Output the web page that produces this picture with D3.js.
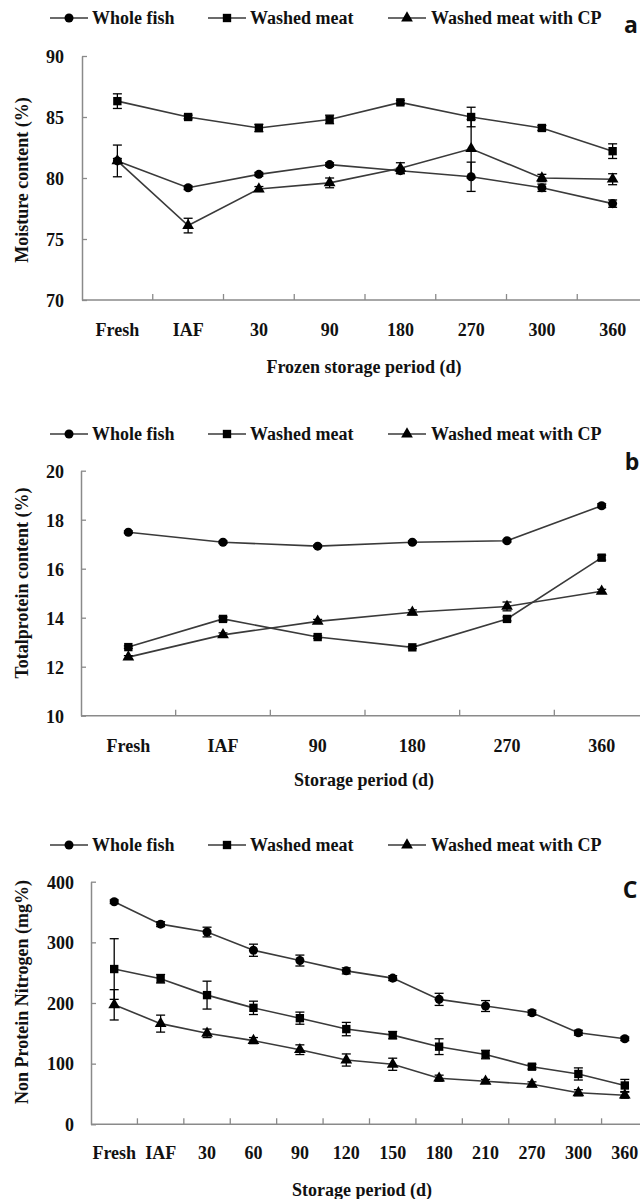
<!DOCTYPE html>
<html>
<head>
<meta charset="utf-8">
<script src="https://cdn.jsdelivr.net/npm/d3@7"></script>
<style>
  html, body { margin: 0; padding: 0; background: #fff; }
  svg { display: block; }
  text { font-family: "Liberation Serif", "Times New Roman", serif; font-weight: bold; fill: #111; }
  .panel-letter { font-family: "Open Sans", "Liberation Sans", sans-serif; font-weight: bold; }
</style>
</head>
<body>
<svg id="chart" width="640" height="1199"></svg>
<script>
// ---------- DATA ----------
const seriesNames = ["Whole fish", "Washed meat", "Washed meat with CP"];

// Panel a: moisture content
const moistureCategories = ["Fresh", "IAF", "30", "90", "180", "270", "300", "360"];
const moistureTicks = [70, 75, 80, 85, 90];
const moistureWhole     = [81.4, 79.2, 80.3, 81.1, 80.6, 80.1, 79.2, 77.9];
const moistureWholeErr  = [1.3, 0.15, 0.15, 0.15, 0.2, 1.2, 0.3, 0.3];
const moistureWashed    = [86.3, 85.0, 84.1, 84.8, 86.2, 85.0, 84.1, 82.2];
const moistureWashedErr = [0.6, 0.15, 0.3, 0.35, 0.15, 0.8, 0.2, 0.6];
const moistureCP        = [81.4, 76.1, 79.1, 79.6, 80.8, 82.4, 80.0, 79.9];
const moistureCPErr     = [0.2, 0.6, 0.2, 0.4, 0.45, 2.4, 0.3, 0.45];

// Panel b: total protein content
const proteinCategories = ["Fresh", "IAF", "90", "180", "270", "360"];
const proteinTicks = [10, 12, 14, 16, 18, 20];
const proteinWhole     = [17.49, 17.08, 16.92, 17.08, 17.14, 18.57];
const proteinWholeErr  = [0.05, 0.05, 0.05, 0.05, 0.05, 0.08];
const proteinWashed    = [12.80, 13.95, 13.21, 12.79, 13.95, 16.45];
const proteinWashedErr = [0.05, 0.08, 0.05, 0.05, 0.08, 0.1];
const proteinCP        = [12.39, 13.30, 13.85, 14.22, 14.46, 15.08];
const proteinCPErr     = [0.06, 0.08, 0.08, 0.1, 0.18, 0.08];

// Panel c: non protein nitrogen
const npnCategories = ["Fresh", "IAF", "30", "60", "90", "120", "150", "180", "210", "270", "300", "360"];
const npnTicks = [0, 100, 200, 300, 400];
const npnWhole     = [367, 330, 317, 287, 270, 253, 241, 206, 195, 184, 151, 141];
const npnWholeErr  = [3, 4, 8, 10, 9, 5, 4, 10, 9, 4, 4, 3];
const npnWashed    = [256, 240, 213, 192, 175, 157, 147, 128, 115, 95, 83, 64];
const npnWashedErr = [50, 7, 23, 11, 10, 11, 6, 13, 7, 4, 10, 10];
const npnCP        = [197, 166, 150, 138, 123, 106, 99, 76, 71, 66, 52, 48];
const npnCPErr     = [25, 14, 7, 5, 8, 10, 10, 5, 3, 4, 5, 5];

// ---------- DRAWING ----------
const svg = d3.select("#chart");
const AXIS_COLOR = "#8a8a8a";
const LINE_COLOR = "#3a3a3a";
const MARK_COLOR = "#000";
const markerTypes = ["circle", "square", "triangle"];

function markerPath(type) {
  if (type === "circle") return d3.symbol(d3.symbolCircle, 64)();
  if (type === "square") return d3.symbol(d3.symbolSquare, 70)();
  return d3.symbol(d3.symbolTriangle, 60)();
}

function drawLegend(y) {
  const g = svg.append("g").attr("class", "legend");
  const lineStarts = [50, 208, 388];
  const textStarts = [92, 250, 431];
  seriesNames.forEach((name, i) => {
    g.append("line")
      .attr("x1", lineStarts[i]).attr("x2", lineStarts[i] + 38)
      .attr("y1", y).attr("y2", y)
      .attr("stroke", LINE_COLOR).attr("stroke-width", 1.6);
    g.append("path")
      .attr("d", markerPath(markerTypes[i]))
      .attr("transform", `translate(${lineStarts[i] + 19},${y})`)
      .attr("fill", MARK_COLOR);
    g.append("text")
      .attr("x", textStarts[i]).attr("y", y + 6)
      .attr("font-size", 18)
      .text(name);
  });
}

function drawPanel(cfg) {
  const g = svg.append("g");
  const x = d3.scaleBand().domain(cfg.categories).range([cfg.left, cfg.right]).padding(0);
  const y = d3.scaleLinear().domain([cfg.ticks[0], cfg.ticks[cfg.ticks.length - 1]])
    .range([cfg.bottom, cfg.top]);

  // y axis (ticks inside)
  const yAxis = d3.axisLeft(y).tickValues(cfg.ticks).tickSizeInner(-5).tickSizeOuter(0).tickPadding(0);
  const ya = g.append("g").attr("transform", `translate(${cfg.left},0)`).call(yAxis);
  ya.select(".domain").attr("stroke", AXIS_COLOR).attr("stroke-width", 1.5);
  ya.selectAll(".tick line").attr("stroke", AXIS_COLOR).attr("stroke-width", 1.3);
  ya.selectAll(".tick text")
    .attr("x", cfg.labelRight - cfg.left)
    .attr("dy", "0.35em")
    .attr("font-size", 18)
    .attr("fill", "#111")
    .attr("font-family", null);

  // x axis: labels at category centres
  const xAxis = d3.axisBottom(x).tickSize(0).tickPadding(0);
  const xa = g.append("g").attr("transform", `translate(0,${cfg.bottom})`).call(xAxis);
  xa.select(".domain").remove();
  xa.selectAll(".tick text")
    .attr("y", cfg.xLabelDy)
    .attr("dy", null)
    .attr("font-size", 18)
    .attr("fill", "#111")
    .attr("font-family", null);
  g.append("line")
    .attr("x1", cfg.left).attr("x2", cfg.right)
    .attr("y1", cfg.bottom).attr("y2", cfg.bottom)
    .attr("stroke", AXIS_COLOR).attr("stroke-width", 1.5);
  // category boundary ticks (pointing up)
  g.selectAll(".bt").data(cfg.categories.slice(1)).enter().append("line")
    .attr("x1", d => x(d)).attr("x2", d => x(d))
    .attr("y1", cfg.bottom).attr("y2", cfg.bottom - 6)
    .attr("stroke", AXIS_COLOR).attr("stroke-width", 1.3);

  // axis titles
  g.append("text")
    .attr("x", cfg.xTitleX).attr("y", cfg.xTitleY)
    .attr("text-anchor", "middle").attr("font-size", 18)
    .text(cfg.xTitle);
  g.append("text")
    .attr("transform", `translate(${cfg.yTitleX},${cfg.yTitleY}) rotate(-90)`)
    .attr("text-anchor", "middle").attr("font-size", 18)
    .text(cfg.yTitle);

  // panel letter
  g.append("text").attr("class", "panel-letter")
    .attr("x", cfg.letterX).attr("y", cfg.letterY)
    .attr("text-anchor", "middle").attr("font-size", 23)
    .text(cfg.letter);

  const cx = d => x(d) + x.bandwidth() / 2;
  const line = d3.line().x(d => cx(d.cat)).y(d => y(d.v));

  cfg.series.forEach((s, si) => {
    const pts = cfg.categories.map((c, i) => ({ cat: c, v: s.values[i], e: s.errors[i] }));
    g.append("path").datum(pts)
      .attr("d", line)
      .attr("fill", "none").attr("stroke", LINE_COLOR).attr("stroke-width", 1.6);
    // error bars
    const eb = g.append("g");
    pts.forEach(p => {
      const x0 = cx(p.cat);
      eb.append("line").attr("x1", x0).attr("x2", x0)
        .attr("y1", y(p.v - p.e)).attr("y2", y(p.v + p.e))
        .attr("stroke", "#000").attr("stroke-width", 1.3);
      [p.v - p.e, p.v + p.e].forEach(v => {
        eb.append("line").attr("x1", x0 - 4.5).attr("x2", x0 + 4.5)
          .attr("y1", y(v)).attr("y2", y(v))
          .attr("stroke", "#000").attr("stroke-width", 1.3);
      });
    });
    g.append("g").selectAll("path").data(pts).enter().append("path")
      .attr("d", markerPath(markerTypes[si]))
      .attr("transform", d => `translate(${cx(d.cat)},${y(d.v)})`)
      .attr("fill", MARK_COLOR);
  });
}

// Panel a
drawLegend(18);
drawPanel({
  categories: moistureCategories, ticks: moistureTicks,
  left: 82, right: 648, top: 56, bottom: 300,
  labelRight: 64, xLabelDy: 36,
  xTitle: "Frozen storage period (d)", xTitleX: 364, xTitleY: 373,
  yTitle: "Moisture content (%)", yTitleX: 28, yTitleY: 180,
  letter: "a", letterX: 631, letterY: 33,
  series: [
    { values: moistureWhole, errors: moistureWholeErr },
    { values: moistureWashed, errors: moistureWashedErr },
    { values: moistureCP, errors: moistureCPErr }
  ]
});

// Panel b
drawLegend(434);
drawPanel({
  categories: proteinCategories, ticks: proteinTicks,
  left: 81, right: 649, top: 470.7, bottom: 715.7,
  labelRight: 64, xLabelDy: 36,
  xTitle: "Storage period (d)", xTitleX: 364, xTitleY: 786,
  yTitle: "Totalprotein content (%)", yTitleX: 28, yTitleY: 583,
  letter: "b", letterX: 632, letterY: 470,
  series: [
    { values: proteinWhole, errors: proteinWholeErr },
    { values: proteinWashed, errors: proteinWashedErr },
    { values: proteinCP, errors: proteinCPErr }
  ]
});

// Panel c
drawLegend(845);
drawPanel({
  categories: npnCategories, ticks: npnTicks,
  left: 91, right: 648, top: 881.7, bottom: 1124.3,
  labelRight: 74, xLabelDy: 35,
  xTitle: "Storage period (d)", xTitleX: 362, xTitleY: 1196,
  yTitle: "Non Protein Nitrogen (mg%)", yTitleX: 28, yTitleY: 992,
  letter: "C", letterX: 630, letterY: 898,
  series: [
    { values: npnWhole, errors: npnWholeErr },
    { values: npnWashed, errors: npnWashedErr },
    { values: npnCP, errors: npnCPErr }
  ]
});
</script>
</body>
</html>
